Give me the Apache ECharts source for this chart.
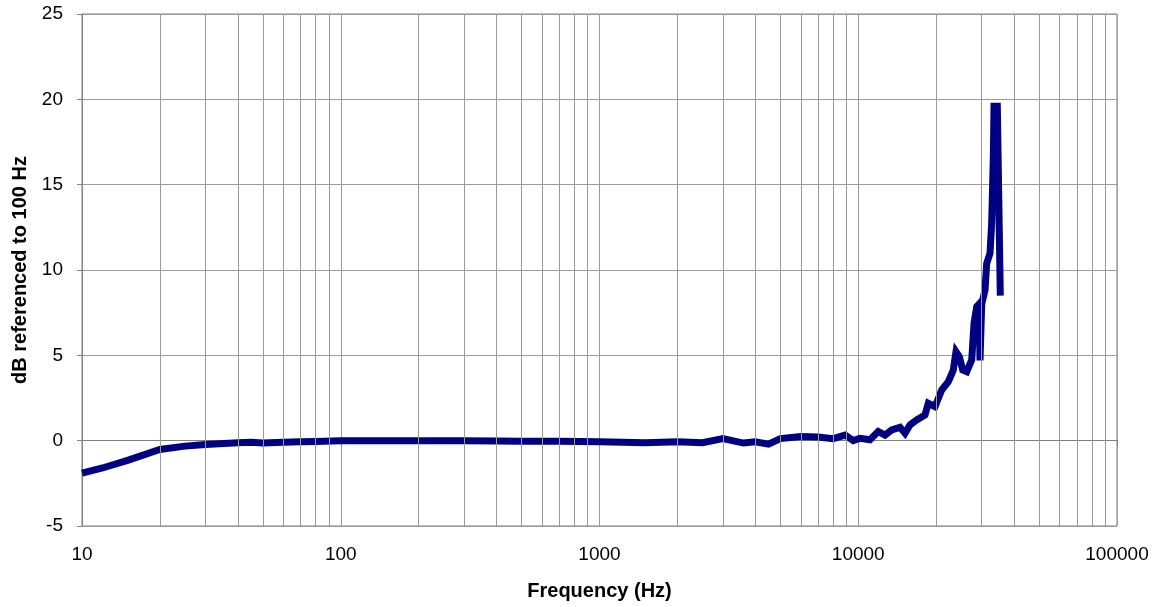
<!DOCTYPE html>
<html>
<head>
<meta charset="utf-8">
<script src="https://cdn.jsdelivr.net/npm/echarts@6/dist/echarts.min.js"></script>
<style>
html,body{margin:0;padding:0;background:#fff;}
#chart{width:1160px;height:607px;}
</style>
</head>
<body>
<div id="chart"></div>
<script>
// Frequency (Hz) of each measured point
const freqHz = [10, 12, 15, 20, 25, 30, 40, 45, 50, 60, 70, 80, 100, 150, 200, 300, 400, 500, 700, 1000,
  1500, 2000, 2500, 3000, 3600, 4000, 4500, 5000, 6000, 7000, 8000, 8900, 9570, 10160, 11100, 11950,
  12690, 13470, 14500, 15160, 15850, 16820, 18110, 18650, 19800, 21010, 22290, 23300, 23870, 24590,
  25330, 26260, 27450, 28020, 28700, 29300, 29550, 30000, 30900, 31360, 32300, 32780, 33270, 33470,
  34470, 35400];
// Response in dB referenced to 100 Hz
const dbValues = [-1.9, -1.6, -1.15, -0.52, -0.32, -0.22, -0.12, -0.1, -0.13, -0.1, -0.07, -0.05, 0, 0, 0, 0, -0.02, -0.03, -0.04, -0.06,
  -0.12, -0.06, -0.12, 0.12, -0.14, -0.06, -0.2, 0.12, 0.25, 0.22, 0.12, 0.33, 0.0, 0.14, 0.05, 0.53,
  0.33, 0.63, 0.78, 0.43, 0.92, 1.21, 1.5, 2.19, 1.99, 2.97, 3.46, 4.14, 5.21, 4.92,
  4.14, 4.04, 4.73, 6.88, 7.85, 8.0, 4.7, 8.0, 8.83, 10.39, 10.98, 12.74, 16.64, 19.6,
  19.6, 8.5];
// Vertical grid lines of the log axis between decades
const minorGridHz = [20, 30, 40, 50, 60, 70, 80, 90, 200, 300, 400, 500, 600, 700, 800, 900,
  2000, 3000, 4000, 5000, 6000, 7000, 8000, 9000, 20000, 30000, 40000, 50000, 60000, 70000, 80000, 90000];
const yTicks = {min: -5, max: 25, interval: 5};
const xRange = {min: 10, max: 100000};

const chart = echarts.init(document.getElementById('chart'), null, {renderer: 'canvas'});
const gridColor = '#9a9a9a';
const axisColor = '#808080';
const fontFam = 'Liberation Sans, Arial, sans-serif';

chart.setOption({
  animation: false,
  backgroundColor: '#fff',
  grid: {left: 82, right: 43, top: 14, bottom: 81, show: true, borderColor: axisColor, borderWidth: 1, backgroundColor: 'transparent'},
  xAxis: {
    type: 'log', logBase: 10, min: xRange.min, max: xRange.max,
    name: 'Frequency (Hz)', nameLocation: 'middle', nameGap: 55,
    nameTextStyle: {fontFamily: fontFam, fontSize: 20, fontWeight: 'bold', color: '#000'},
    axisLine: {show: true, lineStyle: {color: axisColor, width: 1}},
    axisTick: {show: true, length: 5, lineStyle: {color: axisColor}},
    axisLabel: {fontFamily: fontFam, fontSize: 19, color: '#000', margin: 19,
      formatter: v => String(Math.round(v))},
    splitLine: {show: true, lineStyle: {color: gridColor, width: 1}},
    minorTick: {show: false}, minorSplitLine: {show: false}
  },
  yAxis: {
    type: 'value', min: yTicks.min, max: yTicks.max, interval: yTicks.interval,
    name: 'dB referenced to 100 Hz', nameLocation: 'middle', nameGap: 51,
    nameTextStyle: {fontFamily: fontFam, fontSize: 20, fontWeight: 'bold', color: '#000'},
    axisLine: {show: true, lineStyle: {color: axisColor, width: 1}},
    axisTick: {show: true, length: 5, lineStyle: {color: axisColor}},
    axisLabel: {fontFamily: fontFam, fontSize: 19, color: '#000', margin: 19},
    splitLine: {show: true, lineStyle: {color: gridColor, width: 1}}
  },
  series: [
    {
      type: 'line', data: [], z: 1, silent: true,
      markLine: {
        silent: true, symbol: ['none', 'none'], animation: false,
        label: {show: false},
        lineStyle: {color: gridColor, type: 'solid', width: 1},
        data: minorGridHz.map(f => ({xAxis: f}))
      }
    },
    {
      type: 'line', z: 3,
      data: freqHz.map((f, i) => [f, dbValues[i]]),
      showSymbol: false, symbol: 'none', smooth: false,
      lineStyle: {color: '#000080', width: 7, join: 'miter'}
    }
  ]
});
</script>
</body>
</html>
